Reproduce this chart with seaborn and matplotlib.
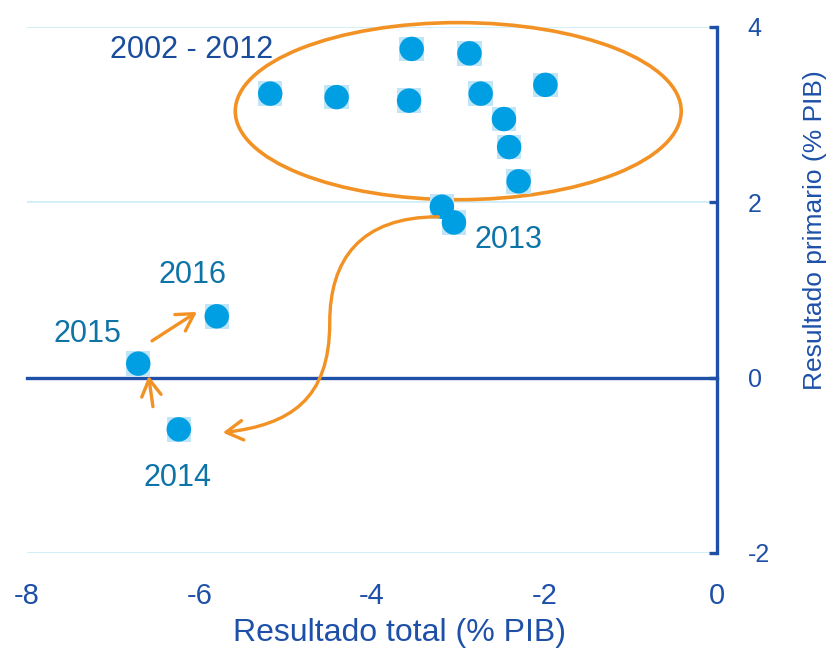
import matplotlib
matplotlib.use("Agg")
import matplotlib.pyplot as plt
import pandas as pd
import seaborn as sns
from matplotlib.patches import Ellipse, FancyArrowPatch
from matplotlib.path import Path

# data (% of GDP)
years = [2002, 2003, 2004, 2005, 2006, 2007, 2008, 2009, 2010, 2011,
         2012, 2013, 2014, 2015, 2016]
resultado_total = [-5.18, -4.41, -3.57, -3.54, -2.87, -2.74, -1.99, -2.47,
                   -2.41, -2.30, -3.19, -3.05, -6.24, -6.71, -5.80]
resultado_primario = [3.24, 3.20, 3.16, 3.75, 3.70, 3.24, 3.34, 2.95,
                      2.63, 2.24, 1.95, 1.77, -0.59, 0.16, 0.70]

x_ticks = [-8, -6, -4, -2, 0]
y_ticks = [-2, 0, 2, 4]

# year labels and where they sit
label_text = ["2002 - 2012", "2013", "2016", "2015", "2014"]
label_x = [-6.09, -2.42, -6.08, -7.30, -6.25]
label_y = [3.74, 1.57, 1.17, 0.50, -1.14]

# orange arrows (tail -> head)
small_arrows = [((-6.55, 0.42), (-6.03, 0.75)),
                ((-6.54, -0.33), (-6.59, 0.02))]
curve_pts = [(-3.23, 1.835), (-4.14, 1.835), (-4.49, 1.345), (-4.49, 0.627),
             (-4.49, -0.251), (-4.95, -0.536), (-5.73, -0.627)]

df = pd.DataFrame({"anio": years, "total": resultado_total,
                   "primario": resultado_primario})

blue = "#009FE3"
axis_blue = "#1E50A8"
year_blue = "#0E74A8"
orange = "#F39224"

sns.set_theme(style="white")
plt.rcParams["font.family"] = ["Liberation Sans", "DejaVu Sans"]
plt.rcParams["axes.unicode_minus"] = False

fig = plt.figure(figsize=(8.33, 6.5), dpi=100)
ax = fig.add_axes([27 / 833, 97 / 650, 690 / 833, 526 / 650])

# faint square halo behind the dots, like the source image
sns.scatterplot(data=df, x="total", y="primario", ax=ax, marker="s",
                s=310, color="#BFE5F6", edgecolor="none", zorder=3)
sns.scatterplot(data=df, x="total", y="primario", ax=ax, marker="o",
                s=310, color=blue, edgecolor="none", zorder=4)

ax.set_xlim(-8, 0)
ax.set_ylim(-2, 4)
ax.set_xticks(x_ticks)
ax.set_yticks(y_ticks)
ax.yaxis.grid(True, color="#C9ECFA", lw=1.2)
ax.set_axisbelow(True)

for s in ["top", "left"]:
    ax.spines[s].set_visible(False)
ax.spines["bottom"].set_position(("data", 0))
ax.spines["bottom"].set_color(axis_blue)
ax.spines["bottom"].set_linewidth(2.4)
ax.spines["right"].set_color(axis_blue)
ax.spines["right"].set_linewidth(2.4)

ax.tick_params(axis="x", direction="out", length=6, width=2.4,
               color=axis_blue, labelbottom=False)
ax.yaxis.tick_right()
ax.tick_params(axis="y", direction="in", length=6, width=2.4,
               color=axis_blue, labelcolor=axis_blue, pad=22)
ax.tick_params(axis="y", which="both", left=False)
for lab in ax.get_yticklabels():
    lab.set_fontsize(18)

# x tick labels sit at the bottom of the plot, not on the zero line
sec = ax.secondary_xaxis("bottom")
sec.set_xticks(x_ticks)
sec.spines["bottom"].set_visible(False)
sec.tick_params(length=0, labelsize=21, labelcolor=axis_blue, pad=21)
sec.set_xlabel("Resultado total (% PIB)", fontsize=23, color=axis_blue,
               labelpad=6)
sec.xaxis.label.set_x(0.54)

ax.set_xlabel("")
ax.set_ylabel("Resultado primario (% PIB)", fontsize=19, color=axis_blue)
ax.yaxis.set_label_position("right")
ax.yaxis.set_label_coords(1.125, 0.614)

for txt, tx, ty in zip(label_text, label_x, label_y):
    col = "#1A4C9C" if txt.startswith("2002") else year_blue
    ax.text(tx, ty, txt, fontsize=22, color=col, ha="center", va="center",
            zorder=6)

ax.add_patch(Ellipse((-3.0, 3.04), 5.17, 2.02, fill=False, clip_on=False,
                     edgecolor=orange, lw=2.6, zorder=2))

for tail, head in small_arrows:
    ax.annotate("", xy=head, xytext=tail,
                arrowprops=dict(arrowstyle="->,head_length=0.6,head_width=0.35",
                                color=orange, lw=2.4, mutation_scale=20,
                                shrinkA=0, shrinkB=0), zorder=5)

codes = [Path.MOVETO] + [Path.CURVE4] * 6
curve = FancyArrowPatch(path=Path(curve_pts, codes),
                        arrowstyle="->,head_length=0.6,head_width=0.35",
                        color=orange, lw=2.4, mutation_scale=20, zorder=5)
ax.add_patch(curve)

fig.savefig("out.png", dpi=100)
